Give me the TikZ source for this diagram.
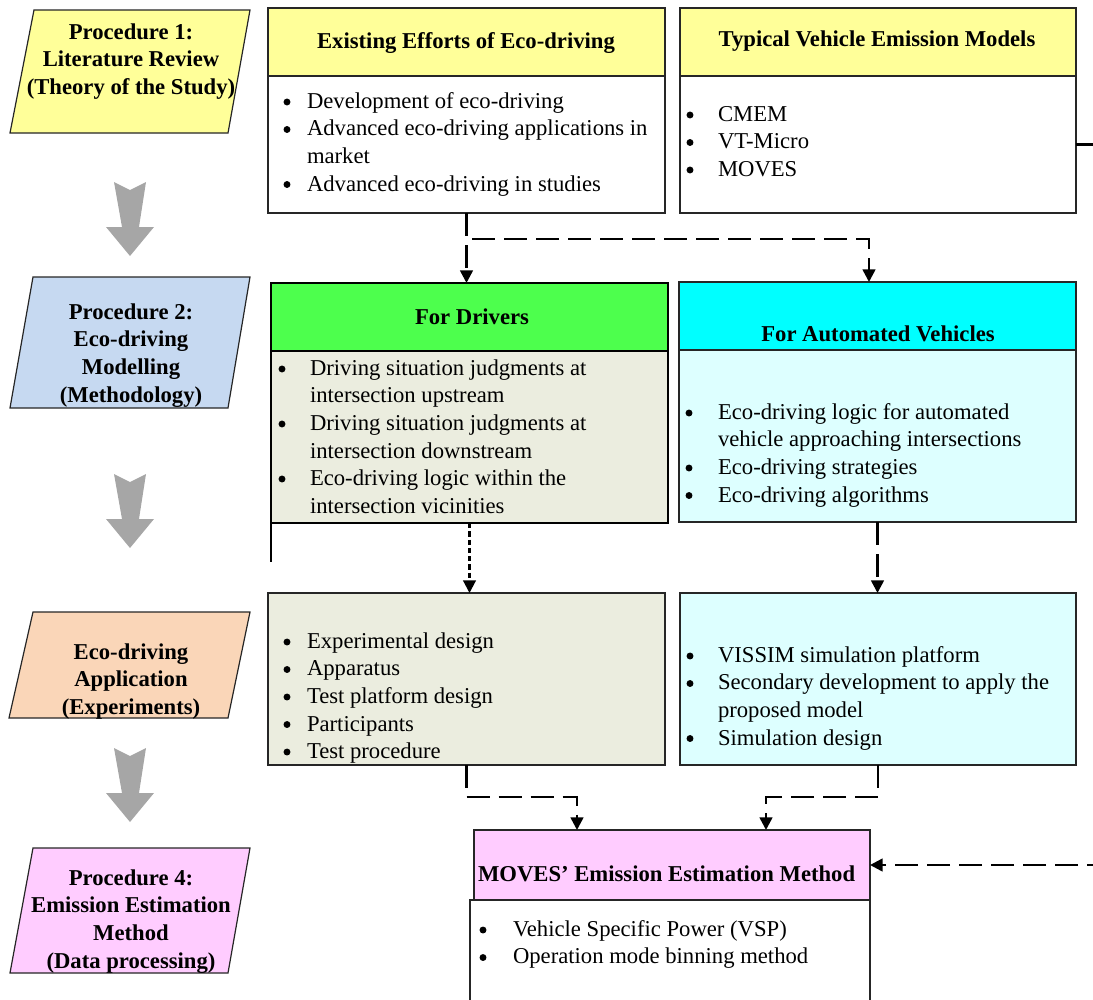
\documentclass[tikz,border=0pt]{standalone}
\usepackage{fontspec}
\setmainfont{Liberation Serif}
\usetikzlibrary{arrows.meta}
\definecolor{pyellow}{HTML}{FFFF99}
\definecolor{pblue}{HTML}{C6D9F1}
\definecolor{porange}{HTML}{FAD6B8}
\definecolor{ppink}{HTML}{FFCCFF}
\definecolor{pgreen}{HTML}{4DFF4D}
\definecolor{pcyan}{HTML}{00FFFF}
\definecolor{lcyan}{HTML}{DDFFFF}
\definecolor{lolive}{HTML}{EBEDDF}
\definecolor{agray}{HTML}{A6A6A6}
\newcommand{\rbox}[6]{\node[#1, anchor=north west, minimum width={(#4-#2)*0.75pt}, minimum height={(#5-#3)*0.75pt}] (#6) at (#2,#3) {};}
\newcommand{\garrow}[1]{\fill[agray] (114,#1) -- (130,#1+8) -- (146,#1) -- (139,#1+45) -- (154,#1+45) -- (130,#1+74) -- (106,#1+45) -- (122,#1+45) -- cycle;}
\begin{document}
\begin{tikzpicture}[x=0.75pt,y=-0.75pt,
  every node/.style={inner sep=0pt, outer sep=0pt, font=\fontsize{17}{20.7}\selectfont},
  ttl/.style={font=\fontsize{17}{20.7}\selectfont\bfseries},
  boxline/.style={draw=black!85, line width=0.9pt},
  thickbox/.style={draw=black, line width=2pt},
  para/.style={draw=black!85, line width=0.9pt},
  conn/.style={line width=1.9pt},
  dconn/.style={conn, dash pattern=on 17.25pt off 6.75pt, -{Triangle[length=9.5pt,width=9.5pt]}},
  ddconn/.style={line width=1.6pt, dash pattern=on 4pt off 2.2pt, -{Triangle[length=9.5pt,width=9.5pt]}},
  bullet/.style={fill=black}
]
\useasboundingbox (0,0) rectangle (1093,1000);

% ---------- left procedure column ----------
\filldraw[para, fill=pyellow] (34,10) -- (250,10) -- (228,133) -- (10,133) -- cycle;
\node[ttl, anchor=north, align=center] (p1) at (131,20) {\strut Procedure 1:\\Literature Review\\(Theory of the Study)};
\garrow{182}
\filldraw[para, fill=pblue] (33,277) -- (250,277) -- (228,408) -- (10,408) -- cycle;
\node[ttl, anchor=north, align=center] (p2) at (131,300) {\strut Procedure 2:\\Eco-driving\\Modelling\\(Methodology)};
\garrow{474}
\filldraw[para, fill=porange] (33,612) -- (250,612) -- (228,718) -- (9,718) -- cycle;
\node[ttl, anchor=north, align=center] (p3) at (131,640) {\strut Eco-driving\\Application\\(Experiments)};
\garrow{748}
\filldraw[para, fill=ppink] (33,848) -- (250,848) -- (228,973) -- (10,973) -- cycle;
\node[ttl, anchor=north, align=center] (p4) at (131,866) {\strut Procedure 4:\\Emission Estimation\\Method\\(Data processing)};

% ---------- top boxes ----------
\rbox{boxline, fill=pyellow}{268}{8}{665}{76}{Ah}
\rbox{boxline, fill=white}{268}{76}{665}{213}{Ab}
\node[ttl, anchor=base] (At) at (466,48) {Existing Efforts of Eco-driving};
\node[anchor=north west, align=left] (Ax) at (307,89) {\strut Development of eco-driving\\ Advanced eco-driving applications in\\ market\\ Advanced eco-driving in studies};
\foreach \y in {102,129.5,184.5} \fill[bullet] (287,\y) circle (2.6pt);

\rbox{boxline, fill=pyellow}{680}{8}{1076}{76}{Bh}
\rbox{boxline, fill=white}{680}{76}{1076}{213}{Bb}
\node[ttl, anchor=base] (Bt) at (877,46) {Typical Vehicle Emission Models};
\node[anchor=north west, align=left] (Bx) at (718,102) {\strut CMEM\\ VT-Micro\\ MOVES};
\foreach \y in {115,142.5,170} \fill[bullet] (690,\y) circle (2.6pt);

% ---------- modelling boxes ----------
\rbox{thickbox, fill=pgreen}{271}{283}{668}{351}{FDh}
\rbox{thickbox, fill=lolive}{271}{351}{668}{523}{FDb}
\node[ttl, anchor=base] (FDt) at (472,324) {For Drivers};
\node[anchor=north west, align=left] (FDx) at (310,356) {\strut Driving situation judgments at\\ intersection upstream\\ Driving situation judgments at\\ intersection downstream\\ Eco-driving logic within the\\ intersection vicinities};
\foreach \y in {369,424,479} \fill[bullet] (282,\y) circle (2.6pt);
\draw[line width=2pt] (FDb.south west) -- ++(0,39);

\rbox{boxline, fill=pcyan}{679}{282}{1076}{350}{FAVh}
\rbox{boxline, fill=lcyan}{679}{350}{1076}{522}{FAVb}
\node[ttl, anchor=base] (FAVt) at (878,341) {For Automated Vehicles};
\node[anchor=north west, align=left] (FAVx) at (718,400) {\strut Eco-driving logic for automated\\ vehicle approaching intersections\\ Eco-driving strategies\\ Eco-driving algorithms};
\foreach \y in {413,468,495.5} \fill[bullet] (689,\y) circle (2.6pt);

% ---------- application boxes ----------
\rbox{boxline, fill=lolive}{268}{593}{665}{765}{Cb}
\node[anchor=north west, align=left] (Cx) at (307,629) {\strut Experimental design\\ Apparatus\\ Test platform design\\ Participants\\ Test procedure};
\foreach \y in {642,669.5,697,724.5,752} \fill[bullet] (287,\y) circle (2.6pt);

\rbox{boxline, fill=lcyan}{680}{593}{1076}{765}{Db}
\node[anchor=north west, align=left] (Dx) at (718,643) {\strut VISSIM simulation platform\\ Secondary development to apply the\\ proposed model\\ Simulation design};
\foreach \y in {656,683.5,738.5} \fill[bullet] (690,\y) circle (2.6pt);

% ---------- MOVES box ----------
\rbox{boxline, fill=white}{470}{900}{870}{1012}{Mb}
\rbox{boxline, fill=ppink}{474}{830}{870}{900}{Mh}
\node[ttl, anchor=base west] (Mt) at (478,881) {MOVES’ Emission Estimation Method};
\node[anchor=north west, align=left] (Mx) at (513,917) {\strut Vehicle Specific Power (VSP)\\ Operation mode binning method};
\foreach \y in {930,957.5} \fill[bullet] (483,\y) circle (2.6pt);

% ---------- connectors ----------
\coordinate (br) at (472,239);
\coordinate (brE) at (869,239);
\coordinate (c5) at (577,797);
\coordinate (c6) at (766,797);
\coordinate (offR1) at (1110,144.5);
\coordinate (offR2) at (1110,865);

\draw[dconn] (Ab.south) -- (FDh.north -| Ab.south);
\draw[dconn] (br) -- (brE) -- (FAVh.north -| brE);
\draw[ddconn] (FDb.south) -- (Cb.north -| FDb.south);
\draw[dconn] (FAVb.south) -- (Db.north -| FAVb.south);
\draw[dconn] (Cb.south) |- (c5) -- (Mh.north -| c5);
\draw[dconn] (Db.south) |- (c6) -- (Mh.north -| c6);
\draw[conn] (Bb.east) -- (offR1) -- (offR2);
\draw[dconn] (offR2) -- (Mh.east);
\end{tikzpicture}
\end{document}
